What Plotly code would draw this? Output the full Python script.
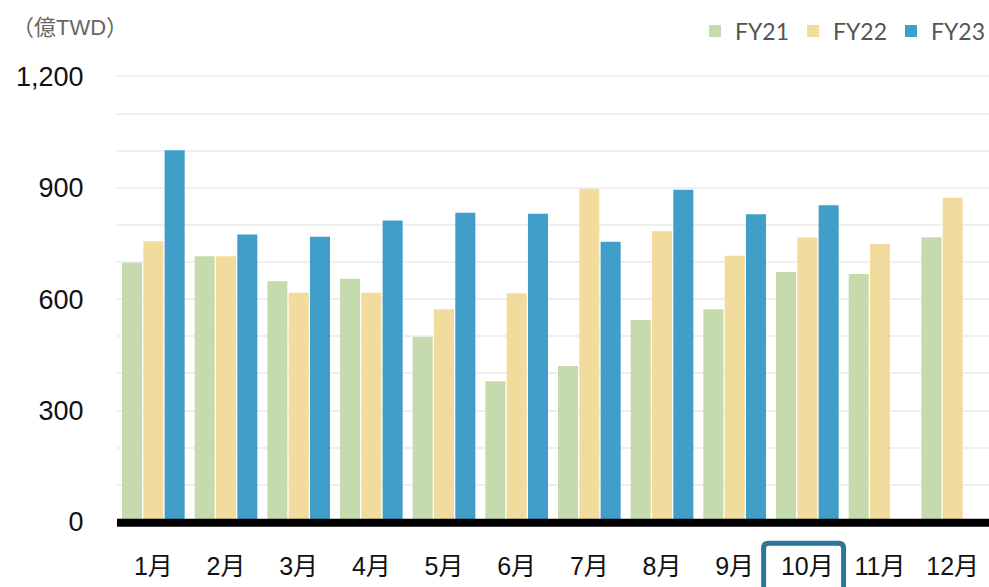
import plotly.graph_objects as go

months = ["1月", "2月", "3月", "4月", "5月", "6月", "7月", "8月", "9月", "10月", "11月", "12月"]
fy21 = [698, 716, 648, 655, 498, 379, 420, 544, 573, 673, 668, 767]
fy22 = [756, 716, 617, 617, 573, 616, 897, 783, 717, 766, 749, 873]
fy23 = [1001, 774, 768, 812, 833, 830, 755, 895, 829, 853, None, None]
series_names = ["FY21", "FY22", "FY23"]
series_colors = ["#C5DBAD", "#F2DC9D", "#419EC8"]
y_ticks = [0, 300, 600, 900, 1200]
y_ticklabels = ["0", "300", "600", "900", "1,200"]
unit_label = "（億TWD）"
highlight_month = "10月"

W, H = 989, 587
ML, MR = 116.5, 0
MT = 74.5
MB = H - 528.2
plot_w = W - ML - MR
plot_h = H - MT - MB

def vy(py):  # pixel y -> paper y
    return (H - MB - py) / plot_h

def vx(px):  # pixel x -> paper x
    return (px - ML) / plot_w

fig = go.Figure()
for name, vals, col in zip(series_names, [fy21, fy22, fy23], series_colors):
    fig.add_trace(go.Bar(
        x=months, y=vals, name=name,
        marker=dict(color=col, line=dict(width=0)),
    ))

font_main = "Liberation Sans, Arial, Noto Sans CJK JP, sans-serif"

fig.update_layout(
    width=W, height=H,
    margin=dict(l=ML, r=MR, t=MT, b=MB, pad=0, autoexpand=False),
    plot_bgcolor="white", paper_bgcolor="white",
    barmode="group", bargap=0.12, bargroupgap=0.06,
    showlegend=True,
    legend=dict(
        orientation="h", xanchor="right", x=1.0, xref="container",
        yanchor="middle", y=1 - 31 / H, yref="container",
        font=dict(family="Lato, Noto Sans, sans-serif", size=23, color="#555555"),
        entrywidth=53, entrywidthmode="pixels", bgcolor="rgba(0,0,0,0)",
        itemclick=False,
    ),
    font=dict(family=font_main, color="#000000"),
)

fig.update_xaxes(
    type="category", showgrid=False, showline=False, zeroline=False,
    automargin=False,
    ticks="outside", ticklen=16, tickcolor="rgba(0,0,0,0)",
    tickfont=dict(family=font_main, size=25, color="#111111"),
)
fig.update_yaxes(
    automargin=False,
    range=[-16.5, 1204], tickmode="array", tickvals=y_ticks, ticktext=y_ticklabels,
    showgrid=True, gridcolor="#EFEFEF", gridwidth=2,
    minor=dict(dtick=100, tick0=0, showgrid=True, gridcolor="#EFEFEF", gridwidth=2, ticks=""),
    zeroline=False,
    showline=False,
    ticks="outside", ticklen=27, tickcolor="rgba(0,0,0,0)",
    tickfont=dict(family=font_main, size=27, color="#111111"),
)

# thick black baseline drawn over the bar bottoms
base_y = vy(523)
fig.add_shape(type="line", xref="paper", yref="paper", x0=0, x1=1, y0=base_y, y1=base_y,
              line=dict(color="#000000", width=8), layer="above")

# unit label
fig.add_annotation(
    text=unit_label, xref="paper", yref="paper",
    x=vx(9), y=vy(27),
    xanchor="left", yanchor="middle", showarrow=False,
    font=dict(family="Liberation Sans, Noto Sans CJK JP, sans-serif", size=22, color="#666666"),
)

# highlight box around the current month label
half_w = 40
cx = 803.5
x0p, x1p = vx(cx - half_w), vx(cx + half_w)
y0p, y1p = vy(543.5), vy(595)
rx, ry = 5 / plot_w, 5 / plot_h
path = (f"M{x0p+rx},{y0p} L{x1p-rx},{y0p} Q{x1p},{y0p} {x1p},{y0p-ry} "
        f"L{x1p},{y1p+ry} Q{x1p},{y1p} {x1p-rx},{y1p} L{x0p+rx},{y1p} "
        f"Q{x0p},{y1p} {x0p},{y1p+ry} L{x0p},{y0p-ry} Q{x0p},{y0p} {x0p+rx},{y0p} Z")
fig.add_shape(type="path", path=path, xref="paper", yref="paper",
              line=dict(color="#2E7699", width=5), fillcolor="rgba(0,0,0,0)", layer="above")

fig.write_html(
    "out.html",
    config={"displayModeBar": False},
    post_script="document.body.style.margin='0px';document.body.style.overflow='hidden';",
)
